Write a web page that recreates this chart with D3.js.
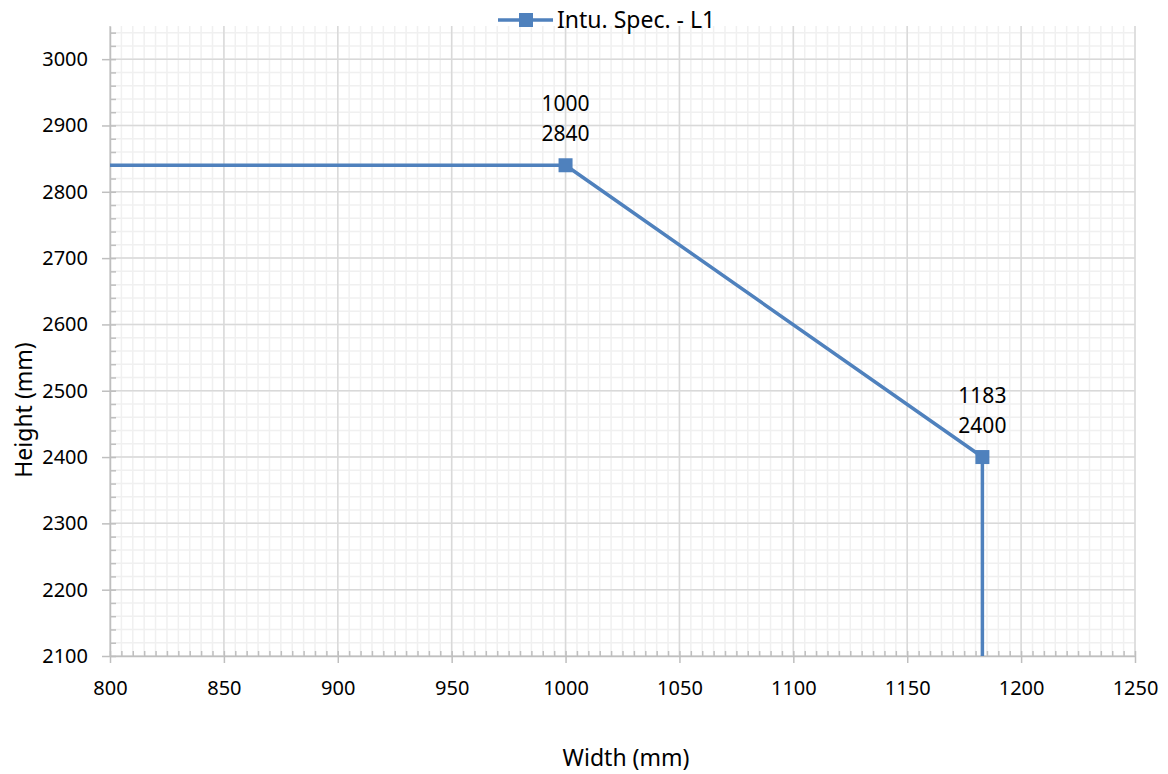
<!DOCTYPE html>
<html>
<head>
<meta charset="utf-8">
<script src="https://cdn.jsdelivr.net/npm/d3@7"></script>
<style>
  body { margin: 0; background: #fff; overflow: hidden; }
  text { font-family: "Noto Sans", "Open Sans", sans-serif; fill: #000; }
</style>
</head>
<body>
<div id="chart"></div>
<script>
// series points (outer points run off the plot and get clipped)
var widths = [0, 1000, 1183, 1183];
var heights = [2840, 2840, 2400, 0];
var labelled = [1, 2]; // points with data labels
var seriesName = "Intu. Spec. - L1";

var xDomain = [800, 1250];
var yDomain = [2100, 3050];
var xTicks = [800, 850, 900, 950, 1000, 1050, 1100, 1150, 1200, 1250];
var yTicks = [2100, 2200, 2300, 2400, 2500, 2600, 2700, 2800, 2900, 3000];
var xMinorStep = 5;
var yMinorStep = 20;

var W = 1168, H = 774;
var margin = {top: 26, right: 33, bottom: 118, left: 110};
var width = W - margin.left - margin.right;
var height = H - margin.top - margin.bottom;
var blue = "#4f81bd";
var tickFs = "20px", labelFs = "21px", titleFs = "23px";

var svg = d3.select("#chart").append("svg")
    .attr("width", W)
    .attr("height", H);

var x = d3.scaleLinear().domain(xDomain).range([0, width]);
var y = d3.scaleLinear().domain(yDomain).range([height, 0]);

var g = svg.append("g")
    .attr("transform", "translate(" + margin.left + "," + margin.top + ")");

// minor grid
var xMinor = d3.range(xDomain[0], xDomain[1] + 0.1, xMinorStep);
var yMinor = d3.range(yDomain[0], yDomain[1] + 0.1, yMinorStep);

g.append("g").selectAll("line").data(xMinor).enter().append("line")
    .attr("x1", d => x(d)).attr("x2", d => x(d))
    .attr("y1", 0).attr("y2", height)
    .style("stroke", "#f0f0f0").style("stroke-width", 1.5);
g.append("g").selectAll("line").data(yMinor).enter().append("line")
    .attr("y1", d => y(d)).attr("y2", d => y(d))
    .attr("x1", 0).attr("x2", width)
    .style("stroke", "#f0f0f0").style("stroke-width", 1.5);

// major grid
g.append("g").selectAll("line").data(xTicks).enter().append("line")
    .attr("x1", d => x(d)).attr("x2", d => x(d))
    .attr("y1", 0).attr("y2", height)
    .style("stroke", "#d9d9d9").style("stroke-width", 1.5);
g.append("g").selectAll("line").data(yTicks).enter().append("line")
    .attr("y1", d => y(d)).attr("y2", d => y(d))
    .attr("x1", 0).attr("x2", width)
    .style("stroke", "#d9d9d9").style("stroke-width", 1.5);

// minor ticks (inside)
g.append("g")
    .attr("transform", "translate(0," + height + ")")
    .call(d3.axisBottom(x).tickValues(xMinor).tickSize(-5).tickFormat(""))
    .call(a => a.select(".domain").remove())
    .selectAll("line").style("stroke", "#bfbfbf").style("stroke-width", 1.5);
g.append("g")
    .call(d3.axisLeft(y).tickValues(yMinor).tickSize(-6).tickFormat(""))
    .call(a => a.select(".domain").remove())
    .selectAll("line").style("stroke", "#bfbfbf").style("stroke-width", 1.5);

// major axes
var xAxis = g.append("g")
    .attr("transform", "translate(0," + height + ")")
    .call(d3.axisBottom(x).tickValues(xTicks).tickFormat(d3.format("d"))
        .tickSize(7).tickPadding(18).tickSizeOuter(0));
var yAxis = g.append("g")
    .call(d3.axisLeft(y).tickValues(yTicks).tickFormat(d3.format("d"))
        .tickSize(8).tickPadding(14).tickSizeOuter(0));

[xAxis, yAxis].forEach(a => {
    a.attr("font-family", null).attr("font-size", null);
    a.select(".domain").style("stroke", "#bfbfbf").style("stroke-width", 1.5);
    a.selectAll(".tick line").style("stroke", "#bfbfbf").style("stroke-width", 1.5);
    a.selectAll(".tick text")
        .style("font-size", tickFs)
        .style("fill", "#000");
});

// series, clipped to plot
svg.append("defs").append("clipPath").attr("id", "plotclip")
    .append("rect").attr("x", 0).attr("y", 0).attr("width", width).attr("height", height);

var pts = widths.map((w, i) => ({w: w, h: heights[i]}));
var plot = g.append("g").attr("clip-path", "url(#plotclip)");

plot.append("path")
    .datum(pts)
    .attr("d", d3.line().x(d => x(d.w)).y(d => y(d.h)))
    .style("fill", "none")
    .style("stroke", blue)
    .style("stroke-width", 3.5)
    .style("stroke-linejoin", "round");

var ms = 14;
g.selectAll("rect.mark").data(pts).enter().append("rect")
    .attr("class", "mark")
    .attr("clip-path", "url(#plotclip)")
    .attr("x", d => x(d.w) - ms / 2)
    .attr("y", d => y(d.h) - ms / 2)
    .attr("width", ms).attr("height", ms)
    .style("fill", blue);

// data labels
labelled.forEach(i => {
    var p = pts[i];
    var lab = g.append("text")
        .attr("x", x(p.w))
        .attr("y", y(p.h) - 54)
        .attr("text-anchor", "middle")
        .style("font-size", labelFs);
    lab.append("tspan").attr("x", x(p.w)).text(p.w);
    lab.append("tspan").attr("x", x(p.w)).attr("dy", 30).text(p.h);
});

// legend
var leg = svg.append("g").attr("transform", "translate(498,20)");
leg.append("line").attr("x1", 0).attr("x2", 55).attr("y1", 0).attr("y2", 0)
    .style("stroke", blue).style("stroke-width", 3.5);
leg.append("rect").attr("x", 28 - 7).attr("y", -7).attr("width", 14).attr("height", 14)
    .style("fill", blue);
leg.append("text").attr("x", 59).attr("y", 8)
    .style("font-size", titleFs)
    .text(seriesName);

// axis titles
svg.append("text")
    .attr("x", 626)
    .attr("y", 766)
    .attr("text-anchor", "middle")
    .style("font-size", titleFs)
    .text("Width (mm)");

svg.append("text")
    .attr("transform", "translate(32,410) rotate(-90)")
    .attr("text-anchor", "middle")
    .style("font-size", titleFs)
    .text("Height (mm)");
</script>
</body>
</html>
